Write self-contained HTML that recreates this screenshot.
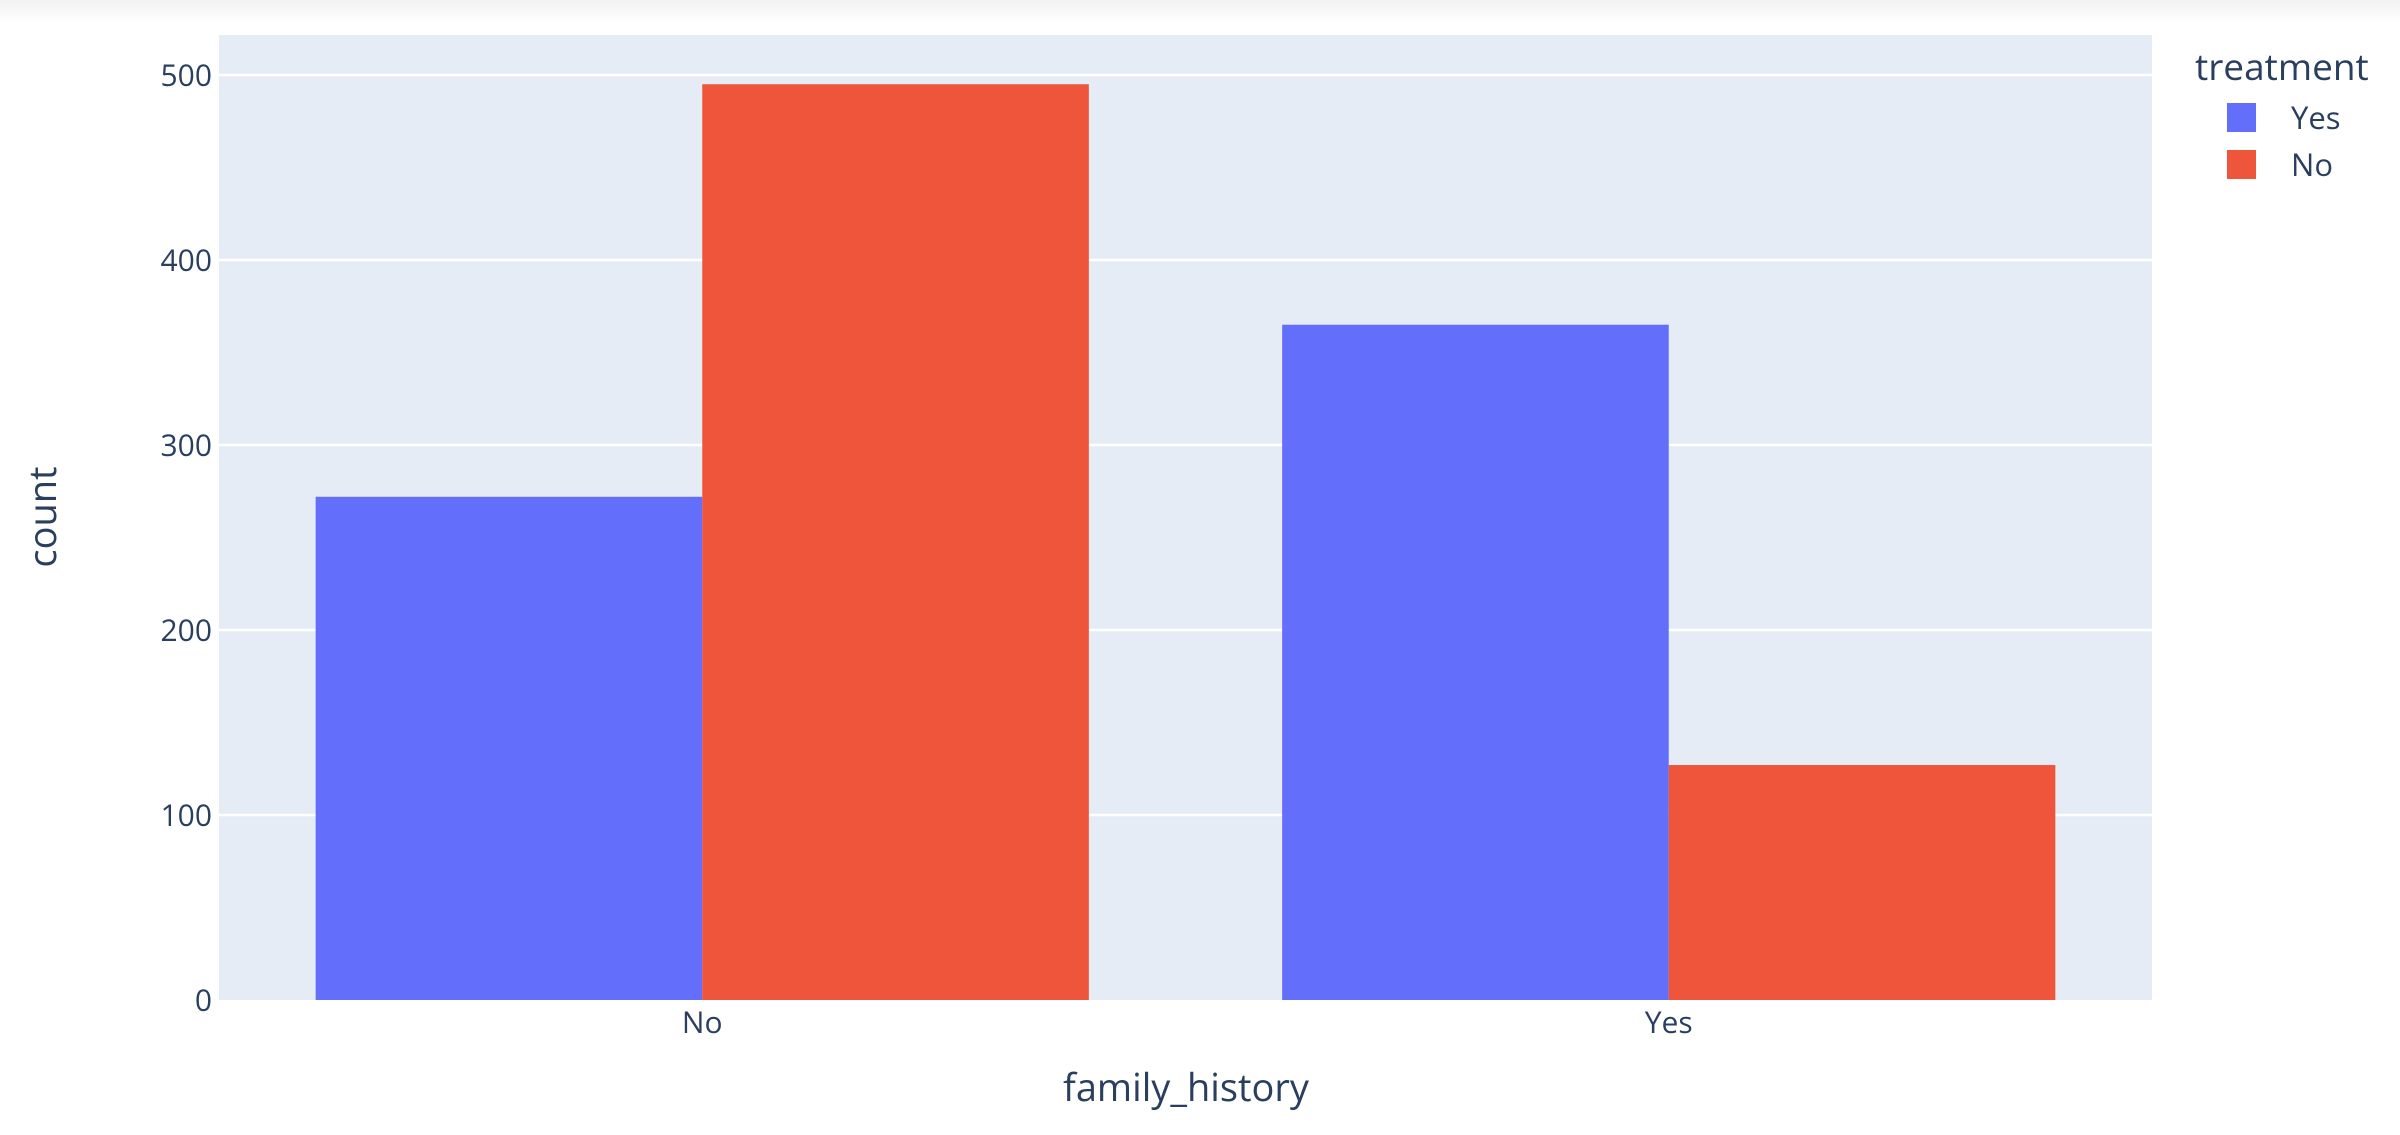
<!DOCTYPE html>
<html><head><meta charset="utf-8"><style>
html,body{margin:0;padding:0;background:#fff;width:2400px;height:1135px;overflow:hidden}
svg text{font-family:"Open Sans","Liberation Sans",sans-serif;fill:#2a3f5f}
</style></head><body>
<svg id="chart" width="2400" height="1135" xmlns="http://www.w3.org/2000/svg">
<defs><linearGradient id="topfade" x1="0" y1="0" x2="0" y2="1"><stop offset="0" stop-color="#f2f2f2"/><stop offset="1" stop-color="#ffffff"/></linearGradient></defs>
<rect x="0" y="0" width="2400" height="24" fill="url(#topfade)"/>
<rect x="219" y="35" width="1933" height="965" fill="#e5ecf6"/>
<g id="grid"></g>
<g id="bars"></g>
<g id="yticks"></g>
<g id="xticks"></g>
<text x="1186" y="1101" font-size="38" text-anchor="middle">family_history</text>
<text transform="translate(56,517) rotate(-90)" font-size="38" text-anchor="middle">count</text>
<g>
<text x="2195" y="80" font-size="37">treatment</text>
<g id="legend"></g>
</g>
</svg>
<script>
const categories = ["No", "Yes"];
const seriesNames = ["Yes", "No"];
const seriesColors = ["#636efa", "#ef553b"];
const valuesYes = [272, 365];
const valuesNo = [495, 127];
const yTicks = [0, 100, 200, 300, 400, 500];

const NS = "http://www.w3.org/2000/svg";
const L = 219, R = 2152, T = 35, B = 1000;
const yMax = 521.6;
function yScale(v){ return B - v / yMax * (B - T); }
const band = (R - L) / categories.length;
function xCenter(i){ return L + band * (i + 0.5); }
const groupW = band * 0.8, barW = groupW / seriesNames.length;
function mk(tag, attrs, parent){ const e = document.createElementNS(NS, tag); for (const k in attrs) e.setAttribute(k, attrs[k]); parent.appendChild(e); return e; }

const grid = document.getElementById('grid'), yt = document.getElementById('yticks');
yTicks.forEach(v => {
  const y = yScale(v);
  if (v > 0) {
    const g = mk('line', {x1: L, x2: R, y1: y, y2: y, stroke: '#fff', 'stroke-width': 2.5}, grid);
    
    
  }
  const t = mk('text', {x: 212, y: y + 11, 'font-size': 30, 'text-anchor': 'end'}, yt);
  t.textContent = v;
  
  
});

const bars = document.getElementById('bars');
const allSeries = [valuesYes, valuesNo];
allSeries.forEach((vals, s) => {
  vals.forEach((v, i) => {
    const x0 = xCenter(i) - groupW / 2 + s * barW;
    const r = mk('rect', {x: x0, y: yScale(v), width: barW, height: yScale(0) - yScale(v), fill: seriesColors[s]}, bars);
    
    
  });
});

const xt = document.getElementById('xticks');
categories.forEach((c, i) => {
  const t = mk('text', {x: xCenter(i), y: 1033, 'font-size': 30, 'text-anchor': 'middle'}, xt);
  t.textContent = c;
  
  
});

const lg = document.getElementById('legend');
seriesNames.forEach((n, s) => {
  const cy = 118 + s * 47;
  const g = mk('g', {}, lg);
  
  
  mk('rect', {x: 2227, y: cy - 15, width: 29, height: 29, fill: seriesColors[s]}, g);
  const t = mk('text', {x: 2291, y: cy + 11, 'font-size': 31}, g);
  t.textContent = n;
});
</script>
</body></html>
